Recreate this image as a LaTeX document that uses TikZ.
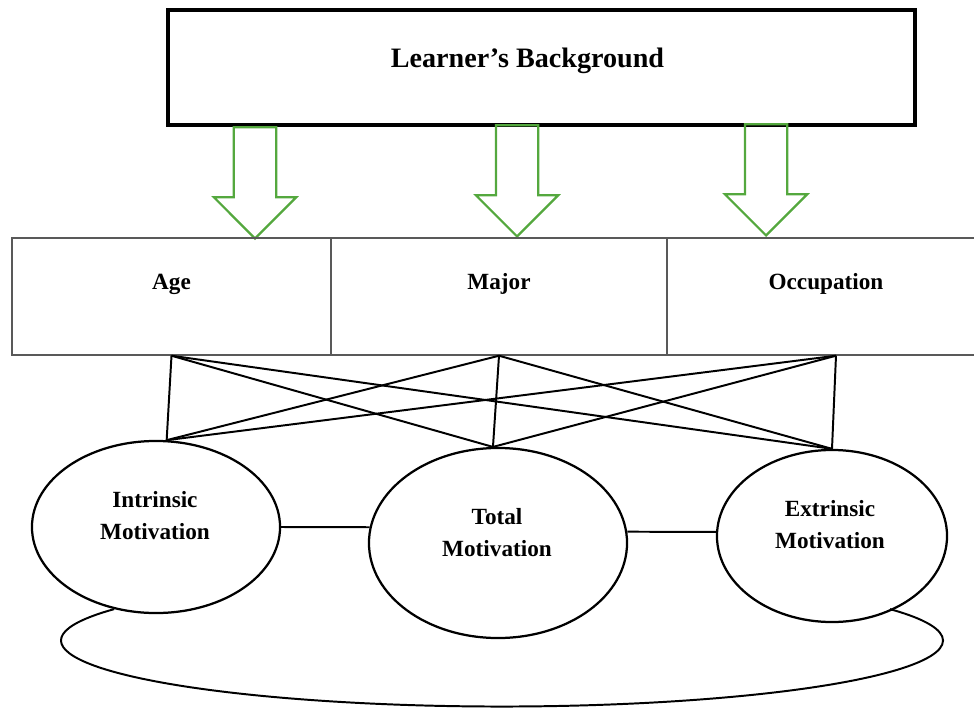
\documentclass[tikz,border=0pt]{standalone}
\usepackage{fontspec}
\setmainfont{Liberation Serif}
\usetikzlibrary{shapes.geometric}
\usetikzlibrary{shapes.arrows}
\definecolor{arrowgreen}{RGB}{84,168,62}
\tikzset{
  topbox/.style= {draw, line width=2.3pt, minimum width=18.675cm, minimum height=2.875cm, inner sep=0},
  cell/.style= {draw=black!65, line width=1pt, inner sep=0, text height=1.275cm, text depth=1.65cm, font=\bfseries\fontsize{16.5}{20}\selectfont},
  motive/.style= {draw, ellipse, fill=white, line width=1.6pt, inner sep=0},
  motivtext/.style= {align=center, font=\bfseries\fontsize{16.5}{22.8}\selectfont},
  downarrow/.style= {draw=arrowgreen, line width=1.6pt, single arrow, shape border rotate=270, minimum height=2.78cm, minimum width=2cm, single arrow head extend=0.5cm, inner sep=0.5cm},
  link/.style= {line width=1.4pt},
}

\begin{document}
\begin{tikzpicture}[x=0.025cm, y=-0.025cm]
  \useasboundingbox (0,0) rectangle (974,711);
  \clip (0,0) rectangle (974,711);

  \node [topbox] (bg) at (541.5,67.5) {};
  \node [anchor=base, font=\bfseries\fontsize{20}{24}\selectfont] (bg-title) at (527.5,67) {Learner’s Background};

  \node [downarrow, anchor=tip] (arr-age) at (255,240) {};
  \node [downarrow, anchor=tip] (arr-major) at (517,238) {};
  \node [downarrow, anchor=tip] (arr-occ) at (766,237) {};

  \node [cell, minimum width=7.975cm] (age) at (171.5,296.5) {Age};
  \node [cell, minimum width=8.4cm] (major) at (499,296.5) {Major};
  \node [cell, minimum width=7.95cm] (occ) at (826,296.5) {Occupation};

  \node [motive, minimum width=6.2cm, minimum height=4.3cm] (intr) at (156,527) {};
  \node [motive, minimum width=6.45cm, minimum height=4.75cm] (total) at (498,543) {};
  \node [motive, minimum width=5.75cm, minimum height=4.3cm] (extr) at (832,536) {};

  \node [motivtext] (intr-text) at (155,516) {Intrinsic\\Motivation};
  \node [motivtext] (total-text) at (497,532.5) {Total\\Motivation};
  \node [motivtext] (extr-text) at (830,524.5) {Extrinsic\\Motivation};

  \path (occ.south) ++(10,0) coordinate (occ-foot);
  \foreach \cellpt in {age.south, major.south, occ-foot}
    \foreach \ellpt in {intr.83, total.93, extr.north}
      \draw [link] (\cellpt) -- (\ellpt);

  \draw [link] (intr.east) -- (total.173);
  \draw [link] (total.5) -- (extr.178);

  % bowl under the three motivations
  \draw [link] (intr.243) arc [start angle=208.4, end angle=-28.4, x radius=441, y radius=66];
\end{tikzpicture}
\end{document}
